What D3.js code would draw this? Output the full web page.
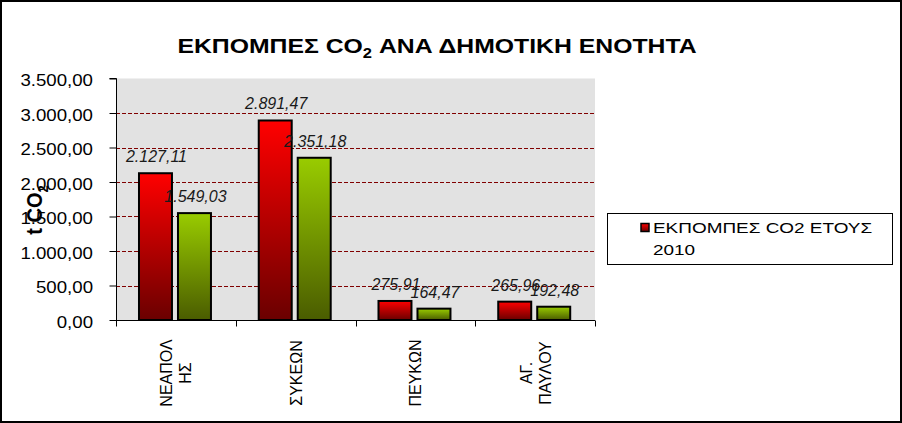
<!DOCTYPE html>
<html>
<head>
<meta charset="utf-8">
<script src="https://cdn.jsdelivr.net/npm/d3@7"></script>
<style>
  html, body { margin: 0; padding: 0; background: #fff; }
  svg { display: block; font-family: "Liberation Sans", Arial, sans-serif; }
</style>
</head>
<body>
<svg id="chart" width="902" height="423"></svg>
<script>
// ---- data ----
const categories = ["ΝΕΑΠΟΛΗΣ", "ΣΥΚΕΩΝ", "ΠΕΥΚΩΝ", "ΑΓ. ΠΑΥΛΟΥ"];
const categoryLines = [["ΝΕΑΠΟΛ", "ΗΣ"], ["ΣΥΚΕΩΝ"], ["ΠΕΥΚΩΝ"], ["ΑΓ.", "ΠΑΥΛΟΥ"]];
const seriesNames = ["ΕΚΠΟΜΠΕΣ CO2 ΕΤΟΥΣ 2010", "ΕΚΠΟΜΠΕΣ CO2 (2η σειρά)"];
const emissions2010 = [2127.11, 2891.47, 275.91, 265.96];
const emissionsSecond = [1549.03, 2351.18, 164.47, 192.48];
const yTicks = [0, 500, 1000, 1500, 2000, 2500, 3000, 3500];
const gridTicks = [500, 1000, 1500, 2000, 2500, 3000];
const titleParts = ["ΕΚΠΟΜΠΕΣ CO", "2", " ΑΝΑ ΔΗΜΟΤΙΚΗ ΕΝΟΤΗΤΑ"];
const legendLines = ["ΕΚΠΟΜΠΕΣ CO2 ΕΤΟΥΣ", "2010"];

// ---- setup ----
const svg = d3.select("#chart");
const W = 902, H = 423;
const plot = { left: 116, right: 595, top: 78.5, bottom: 320 };

const loc = d3.formatLocale({ decimal: ",", thousands: ".", grouping: [3], currency: ["", ""] });
const fmt = loc.format(",.2f");

const rows = categories.map((c, i) => ({ cat: c, lines: categoryLines[i], values: [emissions2010[i], emissionsSecond[i]] }));

const x0 = d3.scaleBand().domain(categories).range([plot.left, plot.right]).padding(0);
const bw = x0.bandwidth();
const x1 = d3.scaleBand().domain([0, 1]).range([0.192 * bw, 0.793 * bw]).paddingInner(0.154).paddingOuter(0);
const y = d3.scaleLinear().domain([0, 3500]).range([plot.bottom, plot.top]);

// gradients
const defs = svg.append("defs");
const grads = [
  { id: "gRed", top: "#ff0000", bottom: "#6a0000" },
  { id: "gGreen", top: "#99cc00", bottom: "#4a5c00" }
];
grads.forEach(g => {
  const lg = defs.append("linearGradient").attr("id", g.id).attr("x1", 0).attr("y1", 0).attr("x2", 0).attr("y2", 1);
  lg.append("stop").attr("offset", "0%").attr("stop-color", g.top);
  lg.append("stop").attr("offset", "100%").attr("stop-color", g.bottom);
});

// background + outer border
svg.append("rect").attr("x", 0).attr("y", 0).attr("width", W).attr("height", H).attr("fill", "#fff");
svg.append("rect").attr("x", 1).attr("y", 1).attr("width", W - 2).attr("height", H - 2)
  .attr("fill", "none").attr("stroke", "#000").attr("stroke-width", 2);

// plot area
svg.append("rect").attr("x", plot.left).attr("y", plot.top)
  .attr("width", plot.right - plot.left).attr("height", plot.bottom - plot.top).attr("fill", "#e2e2e2");

// gridlines
svg.append("g").selectAll("line").data(gridTicks).join("line")
  .attr("x1", plot.left).attr("x2", plot.right)
  .attr("y1", d => Math.round(y(d)) + 0.5).attr("y2", d => Math.round(y(d)) + 0.5)
  .attr("stroke", "#800000").attr("stroke-width", 1).attr("stroke-dasharray", "4,2");

// helper for horizontally stretched text
function sText(parent, x, yy, sx, txt, opts) {
  const g = parent.append("g").attr("transform", `translate(${x},${yy}) scale(${sx},1)`);
  const t = g.append("text").attr("x", 0).attr("y", 0).text(txt);
  Object.entries(opts || {}).forEach(([k, v]) => t.attr(k, v));
  return t;
}

// y axis
const yAxis = d3.axisLeft(y).tickValues(yTicks).tickSize(7).tickFormat("");
const yg = svg.append("g").attr("transform", `translate(${plot.left + 0.5},0)`).call(yAxis);
yg.select(".domain").attr("stroke", "#000").attr("d", `M-7,${y(3500)}H0V${plot.bottom}`);
yg.selectAll(".tick line").attr("stroke", "#000");
yTicks.forEach(v => {
  sText(svg, 93, y(v) + 7.5, 1.13, fmt(v), { "text-anchor": "end", "font-size": "16.5px", fill: "#000" });
});

// x axis
const xg = svg.append("g").attr("transform", `translate(0,${plot.bottom + 0.5})`);
xg.append("line").attr("x1", plot.left).attr("x2", plot.right).attr("stroke", "#000");
const boundaries = categories.map(c => x0(c)).concat([plot.right]);
xg.selectAll("line.tk").data(boundaries).join("line").attr("class", "tk")
  .attr("x1", d => Math.round(d) + 0.5).attr("x2", d => Math.round(d) + 0.5)
  .attr("y1", 0).attr("y2", 6).attr("stroke", "#000");

// category labels (rotated, multi-line)
rows.forEach(r => {
  const cx = x0(r.cat) + bw / 2;
  const n = r.lines.length;
  const spacing = 19;
  r.lines.forEach((ln, j) => {
    const lx = cx + (j - (n - 1) / 2) * spacing + 6;
    svg.append("text")
      .attr("transform", `translate(${lx},373) rotate(-90)`)
      .attr("text-anchor", "middle").attr("font-size", "16px").attr("fill", "#000")
      .text(ln);
  });
});

// bars
const barG = svg.append("g");
rows.forEach(r => {
  r.values.forEach((v, k) => {
    barG.append("rect")
      .attr("x", x0(r.cat) + x1(k)).attr("y", y(v))
      .attr("width", x1.bandwidth()).attr("height", y(0) - y(v))
      .attr("fill", `url(#${grads[k].id})`)
      .attr("stroke", "#000").attr("stroke-width", 2);
  });
});

// data labels
rows.forEach(r => {
  r.values.forEach((v, k) => {
    svg.append("text")
      .attr("x", x0(r.cat) + x1(k) + x1.bandwidth() / 2 + 1)
      .attr("y", y(v) - 11)
      .attr("text-anchor", "middle").attr("font-size", "16px").attr("font-style", "italic")
      .attr("fill", "#1a1a1a")
      .text(fmt(v));
  });
});

// y axis title
{
  const g = svg.append("g").attr("transform", "translate(42,210) scale(1.12,1) rotate(-90)");
  const t = g.append("text").attr("text-anchor", "middle").attr("font-size", "20px").attr("font-weight", "bold").attr("fill", "#000");
  t.append("tspan").text("t CO");
  t.append("tspan").attr("font-size", "13px").attr("dy", 5).text("2");
}

// title
{
  const g = svg.append("g").attr("transform", "translate(437,53) scale(1.18,1)");
  const t = g.append("text").attr("text-anchor", "middle").attr("font-size", "21px").attr("font-weight", "bold").attr("fill", "#000");
  t.append("tspan").text(titleParts[0]);
  t.append("tspan").attr("font-size", "14px").attr("dy", 5).text(titleParts[1]);
  t.append("tspan").attr("dy", -5).text(titleParts[2]);
}

// legend
{
  svg.append("rect").attr("x", 607.5).attr("y", 213.5).attr("width", 285).attr("height", 51)
    .attr("fill", "#fff").attr("stroke", "#000").attr("stroke-width", 1);
  svg.append("rect").attr("x", 641).attr("y", 223.5).attr("width", 8).attr("height", 8)
    .attr("fill", "url(#gRed)").attr("stroke", "#000").attr("stroke-width", 1.5);
  sText(svg, 653, 233, 1.28, legendLines[0], { "font-size": "14.8px", fill: "#000" });
  sText(svg, 653, 255, 1.28, legendLines[1], { "font-size": "14.8px", fill: "#000" });
}
</script>
</body>
</html>
